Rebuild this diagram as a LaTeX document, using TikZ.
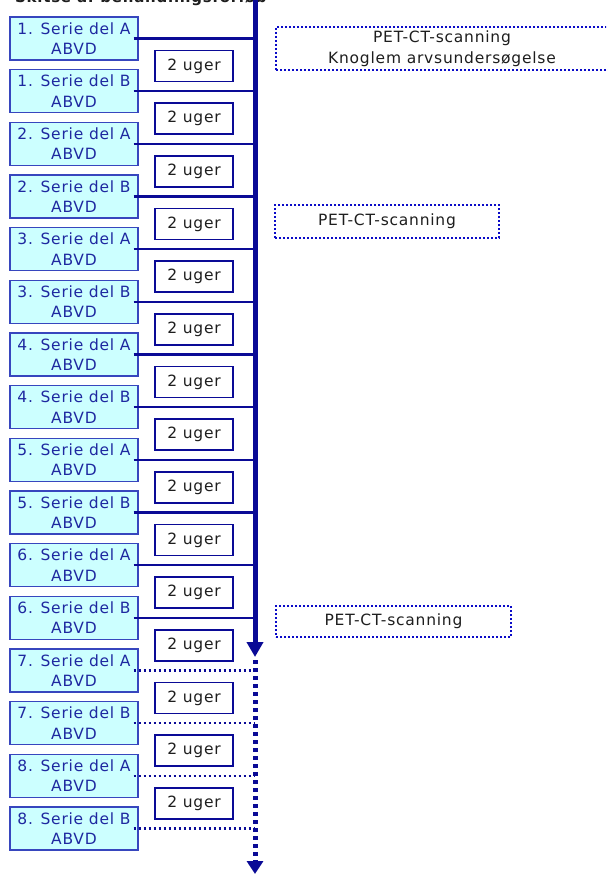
\documentclass[tikz,border=0pt]{standalone}
\usepackage{fontspec}
\setmainfont{DejaVu Sans}[LetterSpace=5]
\usetikzlibrary{arrows.meta}
\definecolor{spineblue}{RGB}{10,10,150}
\definecolor{boxblue}{RGB}{55,70,190}
\definecolor{boxfill}{RGB}{204,255,255}
\definecolor{txtblue}{RGB}{30,40,160}
\definecolor{dotblue}{RGB}{10,10,200}
\definecolor{txtgray}{RGB}{30,30,30}
\tikzset{
  serie/.style={draw=boxblue, line width=1.4pt, fill=boxfill, text=txtblue,
    minimum width=128pt, minimum height=43pt, inner sep=0pt, align=center,
    font=\fontsize{15.5}{20.5}\selectfont},
  uger/.style={draw=spineblue, line width=1.4pt, fill=white, text=txtgray,
    minimum width=78pt, minimum height=31pt, inner sep=0pt,
    font=\fontsize{15.5}{20.5}\selectfont},
  conn/.style={draw=spineblue, line width=2.4pt},
  connd/.style={draw=spineblue, line width=2.4pt, dash pattern=on 2.4pt off 2.6pt},
  petbox/.style={draw=dotblue, line width=2pt, dash pattern=on 2pt off 2pt,
    text=txtgray, align=center, inner sep=0pt, font=\fontsize{15.5}{20.5}\selectfont},
  spine/.style={draw=spineblue, line width=5pt},
}
\begin{document}
\begin{tikzpicture}[x=1pt,y=-1pt]
\useasboundingbox (0,0) rectangle (606,875);
\clip (0,0) rectangle (606,875);
\fill[white] (0,0) rectangle (606,875);
% title (cut at the top)
\node[anchor=base west, inner sep=0pt, font=\bfseries\fontsize{15}{17}\selectfont, text=txtgray] (title) at (15,2.5) {Skitse af behandlingsforløb};
% spine
\coordinate (top) at (255,-5);
\coordinate (mid) at (255,657);
\coordinate (mid2) at (255,660);
\coordinate (bot) at (255,874);
\draw[spine, -{Triangle[length=15pt,width=16pt]}] (top) -- (mid);
\draw[spine, dash pattern=on 4pt off 4pt, -{Triangle[length=13pt,width=16pt]}] (mid2) -- (bot);
% serie boxes and connectors
\foreach \i in {0,...,15} {
  \pgfmathtruncatemacro\n{int(\i/2)+1}
  \pgfmathsetmacro\yy{38.5+\i*52.667}
  \ifodd\i \def\part{B}\else\def\part{A}\fi
  \node[serie] (b\i) at (74,\yy) {\n. Serie del \part\\ABVD};
  \ifnum\i<12
    \draw[conn] ([xshift=-5pt]b\i.east) -- (b\i.east -| top);
  \else
    \draw[connd] ([xshift=-5pt]b\i.east) -- (b\i.east -| top);
  \fi
}
% 2 uger boxes
\foreach \i in {0,...,14} {
  \pgfmathsetmacro\yy{66+\i*52.667}
  \node[uger] (u\i) at (194,\yy) {2 uger};
}
% PET boxes
\node[petbox, minimum width=332pt, minimum height=43pt] (p1) at (442,48.5) {PET-CT-scanning\\Knoglem arvsundersøgelse};
\node[petbox, minimum width=224pt, minimum height=33pt] (p2) at (387,221.5) {PET-CT-scanning};
\node[petbox, minimum width=235pt, minimum height=31pt] (p3) at (393.5,621.5) {PET-CT-scanning};
\end{tikzpicture}
\end{document}
